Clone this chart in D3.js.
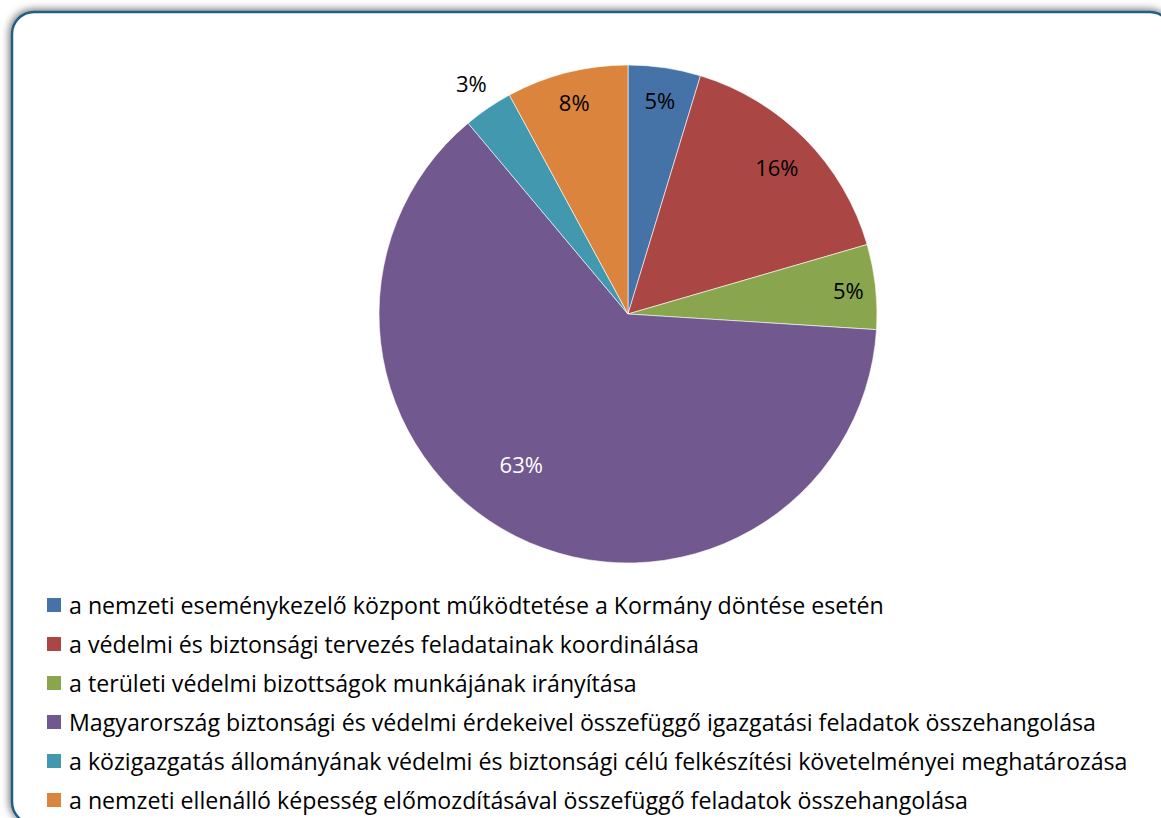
<!DOCTYPE html>
<html lang="en">
<meta charset="utf-8">
<title>Pie chart</title>
<style>
  body { margin: 0; background: #fff; }
  svg { display: block; font-family: "Open Sans", "Noto Sans", sans-serif; }
  .pct { font-size: 22px; }
  .legend text { font-size: 19px; fill: #000; }
</style>
<body>
<script src="https://cdn.jsdelivr.net/npm/d3@7"></script>
<svg class="chart"></svg>
<script>
  // data
  var categories = [
    "a nemzeti eseménykezelő központ működtetése a Kormány döntése esetén",
    "a védelmi és biztonsági tervezés feladatainak koordinálása",
    "a területi védelmi bizottságok munkájának irányítása",
    "Magyarország biztonsági és védelmi érdekeivel összefüggő igazgatási feladatok összehangolása",
    "a közigazgatás állományának védelmi és biztonsági célú felkészítési követelményei meghatározása",
    "a nemzeti ellenálló képesség előmozdításával összefüggő feladatok összehangolása"
  ];
  var values = [4.7, 15.8, 5.5, 62.9, 3.2, 7.9];
  var labels = ["5%", "16%", "5%", "63%", "3%", "8%"];
  var colors = ["#4572A7", "#AA4643", "#89A54E", "#71588F", "#4198AF", "#DB843D"];

  var width = 1161, height = 818;
  var cx = 628, cy = 314, r = 249;

  var svg = d3.select(".chart")
      .attr("width", width)
      .attr("height", height);

  // frame with soft shadow
  var defs = svg.append("defs");
  var f = defs.append("filter").attr("id", "shadow")
      .attr("x", "-5%").attr("y", "-5%").attr("width", "110%").attr("height", "110%");
  f.append("feGaussianBlur").attr("in", "SourceAlpha").attr("stdDeviation", 4.5);
  f.append("feOffset").attr("dx", -1).attr("dy", -1).attr("result", "off");
  var ct = f.append("feComponentTransfer");
  ct.append("feFuncR").attr("type", "linear").attr("slope", 0).attr("intercept", 0.35);
  ct.append("feFuncG").attr("type", "linear").attr("slope", 0).attr("intercept", 0.35);
  ct.append("feFuncB").attr("type", "linear").attr("slope", 0).attr("intercept", 0.35);
  ct.append("feFuncA").attr("type", "linear").attr("slope", 1.6);
  var m = f.append("feMerge");
  m.append("feMergeNode");
  m.append("feMergeNode").attr("in", "SourceGraphic");

  svg.append("rect")
      .attr("x", 12).attr("y", 12)
      .attr("width", 1160).attr("height", 812)
      .attr("rx", 22).attr("ry", 22)
      .attr("fill", "#fff")
      .attr("stroke", "#1c6088")
      .attr("stroke-width", 2.5)
      .attr("filter", "url(#shadow)");

  var pie = d3.pie().sort(null).value(function(d) { return d; });
  var arcs = pie(values);
  var arc = d3.arc().innerRadius(0).outerRadius(r);

  var g = svg.append("g").attr("transform", "translate(" + cx + "," + cy + ")");

  g.selectAll("path")
      .data(arcs)
    .enter().append("path")
      .attr("d", arc)
      .attr("fill", function(d, i) { return colors[i]; })
      .attr("stroke", "#fff")
      .attr("stroke-width", 0.6);

  // label distance from centre, as fraction of radius
  var labelR = [0.87, 0.84, 0.89, 0.74, 1.12, 0.88];
  var labelShift = [0, 0, 0, 0.15, 0, 0]; // angle tweak (rad)

  g.selectAll(".pct")
      .data(arcs)
    .enter().append("text")
      .attr("class", "pct")
      .attr("text-anchor", "middle")
      .attr("dominant-baseline", "central")
      .attr("x", function(d, i) {
        var a = (d.startAngle + d.endAngle) / 2 + labelShift[i];
        return Math.sin(a) * r * labelR[i];
      })
      .attr("y", function(d, i) {
        var a = (d.startAngle + d.endAngle) / 2 + labelShift[i];
        return -Math.cos(a) * r * labelR[i];
      })
      .attr("fill", function(d, i) { return i === 3 ? "#fff" : "#000"; })
      .text(function(d, i) { return labels[i]; });

  // legend
  var legend = svg.append("g").attr("class", "legend");
  var y0 = 605, step = 39;
  var rows = legend.selectAll("g")
      .data(categories)
    .enter().append("g")
      .attr("transform", function(d, i) { return "translate(47," + (y0 + i * step) + ")"; });

  rows.append("rect")
      .attr("x", 0).attr("y", -7)
      .attr("width", 14).attr("height", 14)
      .attr("fill", function(d, i) { return colors[i]; });

  var texts = rows.append("text")
      .attr("x", 22)
      .attr("dominant-baseline", "central")
      .text(function(d) { return d; });

  // fit the longest line to the width it takes in the picture
  var longest = d3.max(texts.nodes(), function(n) { return n.getComputedTextLength(); });
  var fs = 19 * 1059 / longest;
  texts.style("font-size", fs + "px");
</script>
</body>
</html>
